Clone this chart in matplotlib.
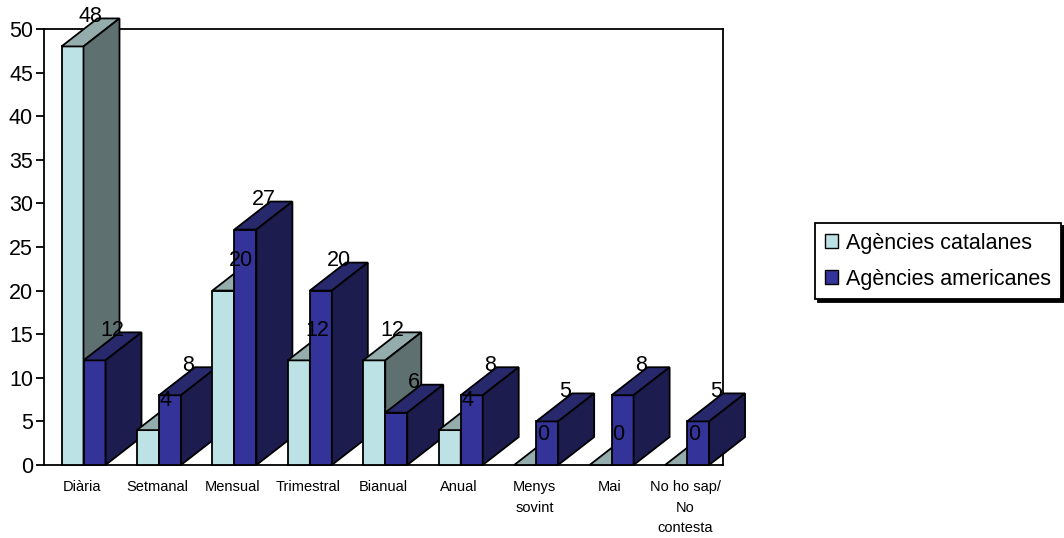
import matplotlib
matplotlib.use("Agg")
import matplotlib.pyplot as plt
from matplotlib.patches import Polygon, Patch

plt.rcParams['font.family'] = ['Liberation Sans', 'DejaVu Sans']

categories = ['Diària', 'Setmanal', 'Mensual', 'Trimestral', 'Bianual', 'Anual',
              'Menys\nsovint', 'Mai', 'No ho sap/\nNo\ncontesta']
catalanes = [48, 4, 20, 12, 12, 4, 0, 0, 0]
americanes = [12, 8, 27, 20, 6, 8, 5, 8, 5]
series_names = ['Agències catalanes', 'Agències americanes']

# face colours: front, top, side
cat_colors = ('#BDE2E5', '#94ACAC', '#5E7070')
ame_colors = ('#333399', '#28286C', '#1C1C4E')

fig = plt.figure(figsize=(10.64, 5.38), dpi=100)
W, H = 1064, 538
ax = fig.add_axes([44 / W, (H - 465) / H, 679 / W, 436 / H])
ax.set_xlim(0, len(categories))
ax.set_ylim(0, 50)

# 3d depth expressed in data units (36 px right, 28 px up)
px_x = len(categories) / 679
px_y = 50 / 436
dx, dy = 36 * px_x, 28 * px_y
bw = 22 * px_x
off = 17.5 * px_x


def bar3d(x0, h, colors):
    front, top, side = colors
    kw = dict(edgecolor='black', linewidth=1.3, clip_on=False, zorder=3, joinstyle='miter')
    ax.add_patch(Polygon([(x0, 0), (x0 + bw, 0), (x0 + bw, h), (x0, h)], facecolor=front, **kw))
    ax.add_patch(Polygon([(x0, h), (x0 + bw, h), (x0 + bw + dx, h + dy), (x0 + dx, h + dy)],
                         facecolor=top, **kw))
    ax.add_patch(Polygon([(x0 + bw, 0), (x0 + bw + dx, dy), (x0 + bw + dx, h + dy), (x0 + bw, h)],
                         facecolor=side, **kw))


for i in range(len(categories)):
    xc = i + off
    xa = xc + bw
    bar3d(xc, catalanes[i], cat_colors)
    bar3d(xa, americanes[i], ame_colors)
    for x0, v in ((xc, catalanes[i]), (xa, americanes[i])):
        ax.text(x0 + bw / 2 + 18 * px_x, v + 30 * px_y, str(v), ha='center', va='center',
                fontsize=15.5, zorder=5, clip_on=False)

for s in ax.spines.values():
    s.set_linewidth(1.3)
    s.set_zorder(1)

ax.set_yticks(range(0, 51, 5))
ax.tick_params(axis='y', direction='out', length=6, width=1.3, labelsize=15.5, pad=2)
ax.set_xticks([i + 0.5 for i in range(len(categories))])
ax.set_xticklabels(categories, fontsize=10.5, linespacing=1.6)
ax.tick_params(axis='x', length=0, pad=11)

handles = [Patch(facecolor=cat_colors[0], edgecolor='black'),
           Patch(facecolor=ame_colors[0], edgecolor='black')]
leg = fig.legend(handles, series_names, loc='upper left', bbox_to_anchor=(815 / W, (H - 223) / H),
                 fontsize=15.5, frameon=True, fancybox=False, edgecolor='black',
                 shadow={'facecolor': 'black', 'edgecolor': 'black', 'alpha': 1},
                 handlelength=0.6, handleheight=0.6, handletextpad=0.4,
                 borderpad=0.45, labelspacing=0.7, borderaxespad=0)
leg.get_frame().set_linewidth(1.3)

fig.savefig('out.png', dpi=100)
